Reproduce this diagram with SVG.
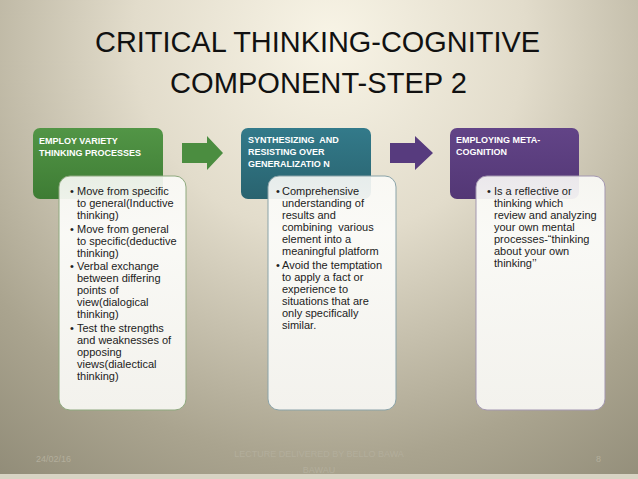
<svg xmlns="http://www.w3.org/2000/svg" width="638" height="479" viewBox="0 0 638 479">
<defs>
<radialGradient id="bg" cx="330" cy="40" r="560" gradientUnits="userSpaceOnUse">
<stop offset="0" stop-color="#f8f4e6"/>
<stop offset="0.35" stop-color="#e2dccb"/>
<stop offset="0.75" stop-color="#aaa48f"/>
<stop offset="1" stop-color="#8f8a76"/>
</radialGradient>
<linearGradient id="gG" x1="0" y1="0" x2="0" y2="1">
<stop offset="0" stop-color="#529546"/><stop offset="1" stop-color="#3e7c34"/>
</linearGradient>
<linearGradient id="gT" x1="0" y1="0" x2="0" y2="1">
<stop offset="0" stop-color="#337a8a"/><stop offset="1" stop-color="#29636f"/>
</linearGradient>
<linearGradient id="gP" x1="0" y1="0" x2="0" y2="1">
<stop offset="0" stop-color="#624487"/><stop offset="1" stop-color="#533775"/>
</linearGradient>
<linearGradient id="gW" x1="0" y1="0" x2="0" y2="1">
<stop offset="0" stop-color="#fbfbf8" stop-opacity="0.9"/><stop offset="0.25" stop-color="#fbfbf8" stop-opacity="0.97"/><stop offset="1" stop-color="#f3f2ed"/>
</linearGradient>
</defs>
<style>
.title{font-family:"Liberation Sans Narrow","Liberation Sans",Arial,sans-serif;font-size:30px;fill:#111;}
.head{font-family:"Liberation Sans",Arial,sans-serif;font-size:9px;font-weight:bold;fill:#ffffff;}
.body{font-family:"Liberation Sans",Arial,sans-serif;font-size:11px;fill:#222;}
.foot{font-family:"Liberation Sans",Arial,sans-serif;font-size:9px;fill:#b3ae9c;}
.card{fill:url(#gW);stroke-width:1;}
</style>
<rect x="0" y="0" width="638" height="479" fill="url(#bg)"/>
<rect x="0" y="474" width="638" height="5" fill="#d8d4c4"/>
<g id="title">
<text class="title" x="95" y="52" textLength="445" lengthAdjust="spacingAndGlyphs">CRITICAL THINKING-COGNITIVE</text>
<text class="title" x="170" y="93" textLength="297" lengthAdjust="spacingAndGlyphs">COMPONENT-STEP 2</text>
</g>
<g id="connectors">
<path d="M182,143 H207 V136 L223,153 L207,170 V163 H182 Z" fill="#4b8d40"/>
<path d="M390,143 H415 V136 L433,153 L415,170 V163 H390 Z" fill="#573b7e"/>
</g>
<g id="node1">
<rect x="33" y="128" width="130" height="71" rx="7" fill="url(#gG)"/>
<text class="head" x="39" y="144">EMPLOY VARIETY</text>
<text class="head" x="39" y="156">THINKING PROCESSES</text>
<rect class="card" x="59" y="176" width="127" height="234" rx="11" stroke="#8ea97e"/>
<g class="body">
<text x="70" y="195">•</text><text x="77" y="195">Move from specific</text>
<text x="77" y="207">to general(Inductive</text>
<text x="77" y="219">thinking)</text>
<text x="70" y="232.5">•</text><text x="77" y="232.5">Move from general</text>
<text x="77" y="244.5">to specific(deductive</text>
<text x="77" y="256.5">thinking)</text>
<text x="70" y="270">•</text><text x="77" y="270">Verbal exchange</text>
<text x="77" y="282">between differing</text>
<text x="77" y="294">points of</text>
<text x="77" y="306">view(dialogical</text>
<text x="77" y="318">thinking)</text>
<text x="70" y="331.5">•</text><text x="77" y="331.5">Test the strengths</text>
<text x="77" y="343.5">and weaknesses of</text>
<text x="77" y="355.5">opposing</text>
<text x="77" y="367.5">views(dialectical</text>
<text x="77" y="379.5">thinking)</text>
</g>
</g>
<g id="node2">
<rect x="241" y="128" width="130" height="71" rx="7" fill="url(#gT)"/>
<text class="head" x="248" y="143" xml:space="preserve">SYNTHESIZING  AND</text>
<text class="head" x="248" y="155">RESISTING OVER</text>
<text class="head" x="248" y="167">GENERALIZATIO N</text>
<rect class="card" x="268" y="176" width="128" height="234" rx="11" stroke="#8aa3a8"/>
<g class="body">
<text x="276" y="195">•</text><text x="282" y="195">Comprehensive</text>
<text x="282" y="207">understanding of</text>
<text x="282" y="219">results and</text>
<text x="282" y="231" xml:space="preserve">combining  various</text>
<text x="282" y="243">element into a</text>
<text x="282" y="255">meaningful platform</text>
<text x="276" y="268.5">•</text><text x="282" y="268.5">Avoid the temptation</text>
<text x="282" y="280.5">to apply a fact or</text>
<text x="282" y="292.5">experience to</text>
<text x="282" y="304.5">situations that are</text>
<text x="282" y="316.5">only specifically</text>
<text x="282" y="328.5">similar.</text>
</g>
</g>
<g id="node3">
<rect x="450" y="128" width="129" height="71" rx="7" fill="url(#gP)"/>
<text class="head" x="456" y="143">EMPLOYING META-</text>
<text class="head" x="456" y="155">COGNITION</text>
<rect class="card" x="476" y="176" width="129" height="234" rx="11" stroke="#a397b0"/>
<g class="body">
<text x="487" y="195">•</text><text x="494" y="195">Is a reflective or</text>
<text x="494" y="207">thinking which</text>
<text x="494" y="219">review and analyzing</text>
<text x="494" y="231">your own mental</text>
<text x="494" y="243">processes-“thinking</text>
<text x="494" y="255">about your own</text>
<text x="494" y="267">thinking’’</text>
</g>
</g>
<g id="footer">
<text class="foot" x="36" y="462">24/02/16</text>
<text class="foot" x="319" y="457" text-anchor="middle">LECTURE DELIVERED BY BELLO BAWA</text>
<text class="foot" x="319" y="473" text-anchor="middle">BAWAU</text>
<text class="foot" x="596" y="462">8</text>
</g>
</svg>
